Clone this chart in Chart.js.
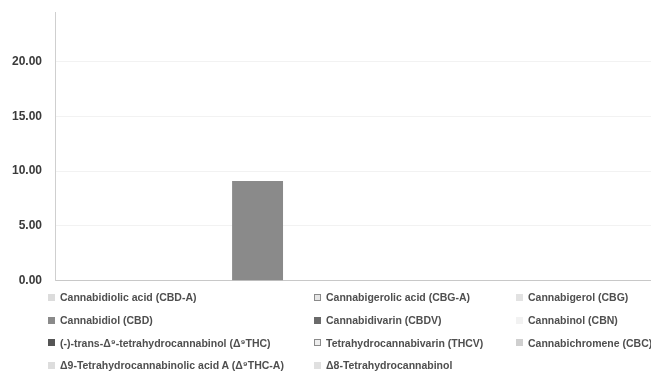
<!DOCTYPE html>
<html>
<head>
<meta charset="utf-8">
<script src="https://cdn.jsdelivr.net/npm/chart.js@4/dist/chart.umd.min.js"></script>
<style>
  html, body { margin: 0; padding: 0; background: #fff; width: 651px; height: 377px; overflow: hidden; }
  #wrap { position: absolute; left: 0; top: 0; width: 684px; height: 301px; }
  #legend {
    position: absolute; left: 48px; top: 286px; width: 620px;
    display: grid; grid-template-columns: 266px 202px 160px;
    grid-auto-rows: 22.7px;
    font-family: "Liberation Sans", Arial, sans-serif; font-size: 10.5px; font-weight: bold; color: #4f4f4f;
  }
  .item { display: flex; align-items: center; white-space: nowrap; }
  .box { width: 7px; height: 7px; margin-right: 5px; box-sizing: border-box; flex: none; }
</style>
</head>
<body>
<div id="wrap"><canvas id="c"></canvas></div>
<div id="legend"></div>
<script>
// Compounds, in legend order (left to right, top to bottom)
const compounds = [
  "Cannabidiolic acid (CBD-A)",
  "Cannabigerolic acid (CBG-A)",
  "Cannabigerol (CBG)",
  "Cannabidiol (CBD)",
  "Cannabidivarin (CBDV)",
  "Cannabinol (CBN)",
  "(-)-trans-Δ⁹-tetrahydrocannabinol (Δ⁹THC)",
  "Tetrahydrocannabivarin (THCV)",
  "Cannabichromene (CBC)",
  "Δ9-Tetrahydrocannabinolic acid A (Δ⁹THC-A)",
  "Δ8-Tetrahydrocannabinol"
];
// Measured content per compound
const contents = [0, 0, 0, 9.1, 0, 0, 0, 0, 0, 0, 0];
// Y axis tick values
const yTicks = [0, 5, 10, 15, 20];

// Series fills and legend swatch borders
const fills = ["#dcdcdc", "#e6e6e6", "#e2e2e2", "#8a8a8a", "#6a6a6a", "#f2f2f2",
               "#555555", "#eeeeee", "#cfcfcf", "#dddddd", "#e0e0e0"];
const borders = [null, "#8a8a8a", null, null, null, null, null, "#8a8a8a", null, null, null];

const datasets = compounds.map((name, i) => ({
  label: name,
  data: [contents[i]],
  backgroundColor: fills[i],
  borderWidth: 0,
  categoryPercentage: 0.979,
  barPercentage: 0.91
}));

new Chart(document.getElementById('c'), {
  type: 'bar',
  data: { labels: [""], datasets },
  options: {
    responsive: true,
    maintainAspectRatio: false,
    animation: false,
    layout: { padding: { top: 12, left: -1, right: 0, bottom: 3 } },
    plugins: { legend: { display: false }, tooltip: { enabled: false } },
    scales: {
      x: {
        ticks: { display: false },
        grid: { display: false, drawTicks: false },
        border: { display: true, color: "#c8c8c8", width: 1 }
      },
      y: {
        min: 0, max: 24.5,
        afterBuildTicks: axis => { axis.ticks = yTicks.map(v => ({ value: v })); },
        // the top tick sits well below the axis end, so no label room is needed there
        afterFit: axis => { axis.paddingTop = 0; },
        ticks: {
          padding: 13,
          color: "#3a3a3a",
          font: { family: "Liberation Sans", size: 12, weight: "bold" },
          callback: v => Number(v).toFixed(2)
        },
        grid: { color: "#f2f2f2", drawTicks: false },
        border: { display: true, color: "#cfcfcf", width: 1 }
      }
    }
  }
});

// Legend built from the same series
const legend = document.getElementById('legend');
compounds.forEach((name, i) => {
  const item = document.createElement('div');
  item.className = 'item';
  const box = document.createElement('span');
  box.className = 'box';
  box.style.background = fills[i];
  if (borders[i]) box.style.border = "1px solid " + borders[i];
  const txt = document.createElement('span');
  txt.textContent = name;
  item.appendChild(box);
  item.appendChild(txt);
  legend.appendChild(item);
});
</script>
</body>
</html>
